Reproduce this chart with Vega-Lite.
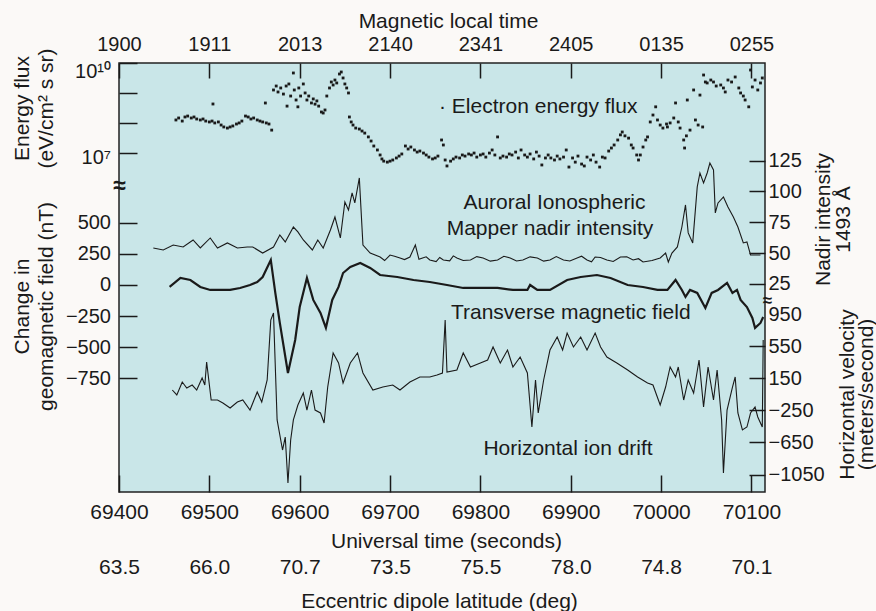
{
  "$schema": "https://vega.github.io/schema/vega-lite/v6.json",
  "width": 646,
  "height": 429,
  "autosize": {"type": "none"},
  "padding": {"left": 119, "top": 63, "right": 111, "bottom": 119},
  "background": "#fbf9f7",
  "config": {
    "view": {"fill": "#c9e6e8", "stroke": "#222222", "strokeWidth": 1.5},
    "font": "Liberation Sans",
    "axis": {
      "domain": false, "grid": false,
      "labelFont": "Liberation Sans", "labelFontSize": 20, "labelColor": "#1a1a1a",
      "titleFont": "Liberation Sans", "titleFontSize": 21, "titleFontWeight": "normal", "titleColor": "#1a1a1a",
      "tickColor": "#1a1a1a", "tickWidth": 1.5,
      "labelFlush": false, "labelOverlap": false, "labelBound": false
    }
  },
  "datasets": {
    "flux": [
      {"ut":69463,"flux":1.28e8},{"ut":69466,"flux":1.49e8},{"ut":69470,"flux":1.18e8},{"ut":69473,"flux":1.61e8},{"ut":69476,"flux":1.73e8},{"ut":69480,"flux":1.49e8},{"ut":69483,"flux":1.61e8},{"ut":69486,"flux":1.38e8},{"ut":69490,"flux":1.28e8},{"ut":69493,"flux":1.38e8},{"ut":69496,"flux":1.18e8},{"ut":69500,"flux":1.10e8},{"ut":69503,"flux":1.18e8},{"ut":69504,"flux":4.35e8},{"ut":69506,"flux":1.02e8},{"ut":69510,"flux":1.10e8},{"ut":69513,"flux":8.7e7},{"ut":69516,"flux":7.5e7},{"ut":69520,"flux":6.9e7},{"ut":69523,"flux":7.5e7},{"ut":69526,"flux":8.1e7},{"ut":69530,"flux":9.4e7},{"ut":69533,"flux":1.02e8},{"ut":69536,"flux":1.18e8},{"ut":69540,"flux":1.73e8},{"ut":69543,"flux":1.61e8},{"ut":69546,"flux":1.38e8},{"ut":69549,"flux":1.49e8},{"ut":69553,"flux":1.28e8},{"ut":69556,"flux":1.18e8},{"ut":69559,"flux":1.10e8},{"ut":69562,"flux":4.69e8},{"ut":69563,"flux":1.02e8},{"ut":69566,"flux":9.4e7},{"ut":69569,"flux":5.9e7},
      {"ut":69571,"flux":1.27e9},{"ut":69574,"flux":1.72e9},{"ut":69576,"flux":1.09e9},{"ut":69579,"flux":1.48e9},{"ut":69582,"flux":9.3e8},{"ut":69585,"flux":1.72e9},{"ut":69586,"flux":3.7e8},{"ut":69588,"flux":2.01e9},{"ut":69590,"flux":8.0e8},{"ut":69593,"flux":4.66e9},{"ut":69594,"flux":1.27e9},{"ut":69596,"flux":5.9e8},{"ut":69598,"flux":3.5e8},{"ut":69599,"flux":1.48e9},{"ut":69601,"flux":8.0e8},{"ut":69604,"flux":2.01e9},{"ut":69606,"flux":1.01e9},{"ut":69608,"flux":5.9e8},{"ut":69610,"flux":8.0e8},{"ut":69613,"flux":4.7e8},{"ut":69615,"flux":6.4e8},{"ut":69617,"flux":4.3e8},{"ut":69619,"flux":5.5e8},{"ut":69621,"flux":3.7e8},{"ut":69624,"flux":2.36e8},{"ut":69626,"flux":2.18e8},{"ut":69628,"flux":2.75e8},{"ut":69630,"flux":8.0e8},{"ut":69633,"flux":1.48e9},{"ut":69635,"flux":2.34e9},{"ut":69637,"flux":1.86e9},{"ut":69639,"flux":2.72e9},{"ut":69641,"flux":2.17e9},{"ut":69644,"flux":4.31e9},{"ut":69646,"flux":5.02e9},{"ut":69648,"flux":3.18e9},{"ut":69650,"flux":2.01e9},{"ut":69652,"flux":1.48e9},{"ut":69654,"flux":1.01e9},
      {"ut":69655,"flux":1.61e8},{"ut":69657,"flux":1.10e8},{"ut":69659,"flux":8.7e7},{"ut":69662,"flux":6.9e7},{"ut":69666,"flux":6.4e7},{"ut":69669,"flux":5.5e7},{"ut":69672,"flux":4.7e7},{"ut":69676,"flux":3.5e7},{"ut":69679,"flux":2.56e7},{"ut":69682,"flux":1.75e7},{"ut":69686,"flux":1.29e7},{"ut":69689,"flux":8.8e6},{"ut":69691,"flux":6.5e6},{"ut":69693,"flux":5.5e6},{"ut":69697,"flux":5.1e6},{"ut":69700,"flux":5.5e6},{"ut":69703,"flux":6.0e6},{"ut":69707,"flux":7.0e6},{"ut":69710,"flux":8.1e6},{"ut":69713,"flux":9.5e6},{"ut":69717,"flux":1.75e7},{"ut":69720,"flux":1.39e7},{"ut":69723,"flux":1.62e7},{"ut":69727,"flux":1.29e7},{"ut":69730,"flux":1.10e7},{"ut":69733,"flux":1.19e7},{"ut":69737,"flux":1.02e7},{"ut":69740,"flux":8.8e6},{"ut":69743,"flux":7.5e6},{"ut":69747,"flux":6.5e6},{"ut":69750,"flux":7.0e6},{"ut":69753,"flux":8.1e6},{"ut":69757,"flux":2.77e7},{"ut":69759,"flux":1.89e7},{"ut":69761,"flux":6.0e6},{"ut":69763,"flux":3.8e6},{"ut":69767,"flux":5.5e6},{"ut":69770,"flux":6.5e6},{"ut":69773,"flux":7.5e6},{"ut":69777,"flux":7.0e6},{"ut":69780,"flux":8.8e6},{"ut":69783,"flux":8.1e6},{"ut":69787,"flux":9.5e6},{"ut":69790,"flux":8.8e6},{"ut":69793,"flux":1.02e7},{"ut":69796,"flux":7.5e6},{"ut":69800,"flux":8.8e6},{"ut":69803,"flux":9.5e6},{"ut":69806,"flux":7.5e6},{"ut":69810,"flux":1.02e7},{"ut":69813,"flux":1.29e7},{"ut":69816,"flux":8.8e6},{"ut":69819,"flux":3.5e7},{"ut":69822,"flux":7.0e6},{"ut":69825,"flux":8.1e6},{"ut":69829,"flux":7.5e6},{"ut":69832,"flux":9.5e6},{"ut":69835,"flux":8.8e6},{"ut":69839,"flux":1.10e7},{"ut":69842,"flux":7.0e6},{"ut":69845,"flux":1.29e7},{"ut":69849,"flux":8.8e6},{"ut":69852,"flux":7.5e6},{"ut":69855,"flux":9.5e6},{"ut":69859,"flux":6.5e6},{"ut":69862,"flux":1.10e7},{"ut":69865,"flux":8.1e6},{"ut":69868,"flux":4.1e6},{"ut":69872,"flux":7.0e6},{"ut":69875,"flux":8.8e6},{"ut":69878,"flux":7.0e6},{"ut":69882,"flux":6.0e6},{"ut":69885,"flux":8.1e6},{"ut":69888,"flux":6.5e6},{"ut":69892,"flux":7.5e6},{"ut":69895,"flux":1.29e7},{"ut":69898,"flux":3.5e6},{"ut":69902,"flux":7.0e6},{"ut":69905,"flux":5.1e6},{"ut":69908,"flux":8.1e6},{"ut":69912,"flux":4.4e6},{"ut":69915,"flux":3.8e6},{"ut":69918,"flux":7.5e6},{"ut":69922,"flux":6.0e6},{"ut":69925,"flux":8.8e6},{"ut":69928,"flux":5.1e6},{"ut":69932,"flux":3.5e6},{"ut":69935,"flux":7.5e6},{"ut":69938,"flux":7.0e6},{"ut":69942,"flux":1.19e7},{"ut":69945,"flux":1.50e7},{"ut":69948,"flux":1.89e7},{"ut":69952,"flux":2.77e7},{"ut":69955,"flux":4.1e7},{"ut":69957,"flux":5.1e7},{"ut":69960,"flux":3.8e7},{"ut":69964,"flux":3.2e7},{"ut":69967,"flux":1.89e7},{"ut":69969,"flux":1.50e7},{"ut":69973,"flux":8.8e6},{"ut":69975,"flux":6.0e6},{"ut":69977,"flux":8.8e6},{"ut":69980,"flux":1.62e7},{"ut":69983,"flux":2.77e7},{"ut":69985,"flux":3.5e7},{"ut":69988,"flux":1.10e8},{"ut":69991,"flux":1.87e8},{"ut":69994,"flux":3.5e8},{"ut":69996,"flux":1.28e8},{"ut":69999,"flux":8.7e7},{"ut":70002,"flux":6.9e7},{"ut":70006,"flux":9.4e7},{"ut":70007,"flux":7.5e7},{"ut":70010,"flux":1.02e8},{"ut":70014,"flux":1.49e8},{"ut":70016,"flux":4.7e8},{"ut":70019,"flux":1.10e8},{"ut":70021,"flux":6.9e7},{"ut":70025,"flux":2.77e7},{"ut":70026,"flux":1.50e7},{"ut":70028,"flux":3.8e7},{"ut":70029,"flux":5.9e8},{"ut":70032,"flux":5.9e7},{"ut":70036,"flux":1.27e9},{"ut":70038,"flux":1.28e8},{"ut":70041,"flux":8.7e7},{"ut":70043,"flux":8.6e8},{"ut":70046,"flux":7.5e7},{"ut":70047,"flux":3.99e9},{"ut":70049,"flux":2.34e9},{"ut":70051,"flux":2.17e9},{"ut":70055,"flux":2.72e9},{"ut":70058,"flux":2.34e9},{"ut":70061,"flux":1.72e9},{"ut":70066,"flux":1.86e9},{"ut":70069,"flux":1.48e9},{"ut":70071,"flux":1.09e9},{"ut":70074,"flux":2.72e9},{"ut":70078,"flux":2.34e9},{"ut":70082,"flux":3.43e9},{"ut":70086,"flux":1.48e9},{"ut":70088,"flux":1.01e9},{"ut":70091,"flux":8.0e8},{"ut":70093,"flux":5.9e8},{"ut":70097,"flux":3.5e8},{"ut":70099,"flux":5.85e9},{"ut":70101,"flux":1.60e9},{"ut":70104,"flux":2.72e9},{"ut":70107,"flux":1.27e9},{"ut":70110,"flux":2.17e9},{"ut":70112,"flux":3.18e9}
    ],
    "nadir": [
      {"ut":69438,"nadir":54.2},{"ut":69449,"nadir":52.6},{"ut":69460,"nadir":56.6},{"ut":69471,"nadir":55.0},{"ut":69482,"nadir":60.7},{"ut":69490,"nadir":54.2},{"ut":69501,"nadir":62.3},{"ut":69509,"nadir":54.2},{"ut":69520,"nadir":58.3},{"ut":69531,"nadir":54.2},{"ut":69542,"nadir":55.0},{"ut":69548,"nadir":55.0},{"ut":69559,"nadir":50.1},{"ut":69571,"nadir":55.0},{"ut":69578,"nadir":64.7},{"ut":69584,"nadir":59.1},{"ut":69593,"nadir":71.2},{"ut":69598,"nadir":67.2},{"ut":69604,"nadir":60.7},{"ut":69614,"nadir":52.6},{"ut":69620,"nadir":60.7},{"ut":69626,"nadir":54.2},{"ut":69634,"nadir":68.8},{"ut":69639,"nadir":79.3},{"ut":69645,"nadir":62.3},{"ut":69650,"nadir":91.5},{"ut":69654,"nadir":85.0},{"ut":69658,"nadir":98.8},{"ut":69661,"nadir":90.7},{"ut":69666,"nadir":111.0},{"ut":69670,"nadir":56.6},{"ut":69678,"nadir":50.1},{"ut":69689,"nadir":46.9},{"ut":69694,"nadir":44.0},{"ut":69700,"nadir":48.5},{"ut":69705,"nadir":47.5},{"ut":69711,"nadir":46.1},{"ut":69716,"nadir":44.8},{"ut":69722,"nadir":46.9},{"ut":69728,"nadir":56.6},{"ut":69732,"nadir":45.0},{"ut":69736,"nadir":46.1},{"ut":69740,"nadir":47.0},{"ut":69744,"nadir":44.5},{"ut":69751,"nadir":43.2},{"ut":69755,"nadir":46.5},{"ut":69759,"nadir":44.5},{"ut":69766,"nadir":43.8},{"ut":69770,"nadir":47.8},{"ut":69774,"nadir":46.1},{"ut":69781,"nadir":44.0},{"ut":69789,"nadir":44.5},{"ut":69796,"nadir":47.2},{"ut":69803,"nadir":46.1},{"ut":69811,"nadir":43.5},{"ut":69819,"nadir":44.5},{"ut":69826,"nadir":47.5},{"ut":69833,"nadir":46.1},{"ut":69840,"nadir":43.6},{"ut":69847,"nadir":44.5},{"ut":69855,"nadir":47.0},{"ut":69863,"nadir":46.1},{"ut":69870,"nadir":43.5},{"ut":69877,"nadir":44.5},{"ut":69884,"nadir":47.2},{"ut":69892,"nadir":44.5},{"ut":69899,"nadir":43.6},{"ut":69907,"nadir":46.1},{"ut":69912,"nadir":47.5},{"ut":69918,"nadir":44.5},{"ut":69923,"nadir":43.0},{"ut":69927,"nadir":46.9},{"ut":69933,"nadir":46.5},{"ut":69940,"nadir":44.5},{"ut":69947,"nadir":43.2},{"ut":69955,"nadir":46.9},{"ut":69962,"nadir":47.0},{"ut":69969,"nadir":44.5},{"ut":69975,"nadir":45.5},{"ut":69980,"nadir":42.8},{"ut":69990,"nadir":44.0},{"ut":69999,"nadir":46.1},{"ut":70005,"nadir":50.1},{"ut":70008,"nadir":42.8},{"ut":70012,"nadir":50.1},{"ut":70018,"nadir":55.0},{"ut":70023,"nadir":71.2},{"ut":70027,"nadir":89.1},{"ut":70030,"nadir":66.4},{"ut":70035,"nadir":58.3},{"ut":70040,"nadir":103.7},{"ut":70043,"nadir":115.0},{"ut":70047,"nadir":106.9},{"ut":70051,"nadir":115.0},{"ut":70054,"nadir":123.1},{"ut":70058,"nadir":117.5},{"ut":70060,"nadir":82.6},{"ut":70063,"nadir":90.7},{"ut":70069,"nadir":95.6},{"ut":70074,"nadir":87.4},{"ut":70080,"nadir":79.3},{"ut":70085,"nadir":71.2},{"ut":70091,"nadir":58.3},{"ut":70095,"nadir":59.1},{"ut":70099,"nadir":48.5},{"ut":70110,"nadir":48.5}
    ],
    "mag": [
      {"ut":69456,"mag":-16},{"ut":69468,"mag":56},{"ut":69479,"mag":40},{"ut":69490,"mag":-16},{"ut":69501,"mag":-40},{"ut":69512,"mag":-40},{"ut":69523,"mag":-40},{"ut":69534,"mag":-24},{"ut":69545,"mag":0},{"ut":69553,"mag":24},{"ut":69559,"mag":64},{"ut":69568,"mag":201},{"ut":69573,"mag":-64},{"ut":69578,"mag":-305},{"ut":69587,"mag":-707},{"ut":69595,"mag":-442},{"ut":69600,"mag":-177},{"ut":69608,"mag":56},{"ut":69615,"mag":-120},{"ut":69623,"mag":-225},{"ut":69629,"mag":-345},{"ut":69636,"mag":-120},{"ut":69643,"mag":-16},{"ut":69648,"mag":96},{"ut":69656,"mag":145},{"ut":69667,"mag":177},{"ut":69678,"mag":137},{"ut":69689,"mag":80},{"ut":69708,"mag":64},{"ut":69726,"mag":40},{"ut":69744,"mag":24},{"ut":69763,"mag":0},{"ut":69781,"mag":-24},{"ut":69800,"mag":-24},{"ut":69819,"mag":-24},{"ut":69836,"mag":-40},{"ut":69852,"mag":-40},{"ut":69855,"mag":0},{"ut":69863,"mag":-40},{"ut":69877,"mag":-40},{"ut":69896,"mag":40},{"ut":69911,"mag":64},{"ut":69929,"mag":80},{"ut":69944,"mag":56},{"ut":69963,"mag":0},{"ut":69980,"mag":-16},{"ut":69996,"mag":-40},{"ut":70007,"mag":-40},{"ut":70016,"mag":40},{"ut":70023,"mag":-40},{"ut":70027,"mag":-96},{"ut":70032,"mag":-40},{"ut":70040,"mag":-64},{"ut":70049,"mag":-185},{"ut":70056,"mag":-64},{"ut":70063,"mag":-40},{"ut":70073,"mag":16},{"ut":70079,"mag":-64},{"ut":70084,"mag":-40},{"ut":70088,"mag":-120},{"ut":70095,"mag":-177},{"ut":70101,"mag":-265},{"ut":70104,"mag":-345},{"ut":70110,"mag":-305},{"ut":70113,"mag":-257}
    ],
    "vel": [
      {"ut":69459,"vel":5},{"ut":69464,"vel":-57},{"ut":69470,"vel":105},{"ut":69475,"vel":30},{"ut":69481,"vel":67},{"ut":69486,"vel":5},{"ut":69492,"vel":155},{"ut":69495,"vel":67},{"ut":69497,"vel":354},{"ut":69502,"vel":-120},{"ut":69509,"vel":-120},{"ut":69515,"vel":-157},{"ut":69523,"vel":-220},{"ut":69531,"vel":-145},{"ut":69537,"vel":-120},{"ut":69545,"vel":-245},{"ut":69553,"vel":-20},{"ut":69558,"vel":-145},{"ut":69564,"vel":130},{"ut":69568,"vel":878},{"ut":69571,"vel":966},{"ut":69575,"vel":-369},{"ut":69581,"vel":-744},{"ut":69584,"vel":-582},{"ut":69587,"vel":-1156},{"ut":69590,"vel":-619},{"ut":69593,"vel":-369},{"ut":69598,"vel":-182},{"ut":69604,"vel":-33},{"ut":69608,"vel":-245},{"ut":69613,"vel":5},{"ut":69617,"vel":-245},{"ut":69623,"vel":-282},{"ut":69627,"vel":-407},{"ut":69631,"vel":42},{"ut":69637,"vel":467},{"ut":69643,"vel":342},{"ut":69648,"vel":92},{"ut":69656,"vel":342},{"ut":69664,"vel":467},{"ut":69670,"vel":217},{"ut":69681,"vel":5},{"ut":69692,"vel":42},{"ut":69703,"vel":67},{"ut":69711,"vel":5},{"ut":69722,"vel":105},{"ut":69733,"vel":167},{"ut":69744,"vel":167},{"ut":69752,"vel":192},{"ut":69758,"vel":217},{"ut":69761,"vel":878},{"ut":69763,"vel":230},{"ut":69774,"vel":255},{"ut":69781,"vel":467},{"ut":69789,"vel":292},{"ut":69800,"vel":342},{"ut":69808,"vel":379},{"ut":69814,"vel":542},{"ut":69822,"vel":342},{"ut":69830,"vel":504},{"ut":69836,"vel":292},{"ut":69844,"vel":417},{"ut":69852,"vel":217},{"ut":69857,"vel":-457},{"ut":69861,"vel":130},{"ut":69864,"vel":-282},{"ut":69870,"vel":130},{"ut":69877,"vel":504},{"ut":69885,"vel":666},{"ut":69891,"vel":504},{"ut":69896,"vel":716},{"ut":69903,"vel":542},{"ut":69911,"vel":666},{"ut":69918,"vel":504},{"ut":69927,"vel":716},{"ut":69933,"vel":542},{"ut":69940,"vel":417},{"ut":69951,"vel":342},{"ut":69963,"vel":255},{"ut":69974,"vel":167},{"ut":69985,"vel":92},{"ut":69991,"vel":67},{"ut":69999,"vel":-182},{"ut":70005,"vel":42},{"ut":70010,"vel":292},{"ut":70016,"vel":167},{"ut":70019,"vel":292},{"ut":70025,"vel":-120},{"ut":70030,"vel":130},{"ut":70036,"vel":-33},{"ut":70042,"vel":379},{"ut":70047,"vel":-207},{"ut":70052,"vel":292},{"ut":70058,"vel":-120},{"ut":70062,"vel":255},{"ut":70067,"vel":-369},{"ut":70069,"vel":-1031},{"ut":70073,"vel":-245},{"ut":70079,"vel":42},{"ut":70082,"vel":167},{"ut":70085,"vel":-282},{"ut":70090,"vel":-494},{"ut":70095,"vel":-457},{"ut":70099,"vel":-282},{"ut":70104,"vel":-207},{"ut":70107,"vel":-332},{"ut":70112,"vel":-457},{"ut":70113,"vel":629}
    ]
  },
  "layer": [
    {
      "layer": [
        {
          "data": {"name": "flux"},
          "mark": {"type": "point", "shape": "square", "filled": true, "size": 8, "color": "#1a1a1a", "opacity": 1},
          "encoding": {
            "x": {"field": "ut", "type": "quantitative",
              "scale": {"domain": [69400, 70115], "nice": false, "zero": false},
              "axis": {"orient": "bottom", "values": [69400,69500,69600,69700,69800,69900,70000,70100], "format": "d",
                "tickSize": -17, "labelPadding": 37.5, "labelBaseline": "middle", "labelFontSize": 21,
                "title": "Universal time (seconds)", "titleX": 327, "titleY": 49, "titleBaseline": "middle", "titleAlign": "center"}},
            "y": {"field": "flux", "type": "quantitative",
              "scale": {"type": "log", "domain": [5.62e-5, 1e10], "nice": false},
              "axis": {"orient": "left", "values": [1e7, 1e8, 1e9, 1e10],
                "labelExpr": "datum.value > 5e9 ? '10¹⁰' : ((datum.value > 5e6 && datum.value < 2e7) ? '10⁷' : '')",
                "tickSize": -18, "labelPadding": 26.5, "labelBaseline": "middle", "labelAlign": "right",
                "labelOffset": {"condition": {"test": "datum.value > 5e9", "value": 8}, "value": 4},
                "title": ["Energy flux", "(eV/cm² s sr)"], "titleAngle": 270, "titleX": -97, "titleY": 45,
                "titleBaseline": "middle", "titleAlign": "center", "titleLineHeight": 24}}
          }
        },
        {
          "data": {"values": [{"ut": 69864, "flux": 3.45e8, "label": "· Electron energy flux"}]},
          "mark": {"type": "text", "fontSize": 21, "font": "Liberation Sans", "color": "#1a1a1a", "align": "center", "baseline": "middle"},
          "encoding": {
            "x": {"field": "ut", "type": "quantitative"},
            "y": {"field": "flux", "type": "quantitative"},
            "text": {"field": "label"}
          }
        }
      ]
    },
    {
      "layer": [
        {
          "data": {"name": "nadir"},
          "mark": {"type": "line", "color": "#1a1a1a", "strokeWidth": 1.1},
          "encoding": {
            "x": {"field": "ut", "type": "quantitative",
              "scale": {"domain": [69400, 70115], "nice": false, "zero": false},
              "axis": {"orient": "top", "values": [69400,69500,69600,69700,69800,69900,70000,70100],
                "labelExpr": "['1900','1911','2013','2140','2341','2405','0135','0255'][round((datum.value-69400)/100)]",
                "tickSize": -15, "labelPadding": 33.5, "labelBaseline": "middle",
                "title": "Magnetic local time", "titleX": 329, "titleY": -42, "titleBaseline": "middle", "titleAlign": "center"}},
            "y": {"field": "nadir", "type": "quantitative",
              "scale": {"domain": [-143.7, 204.2], "nice": false, "zero": false},
              "axis": {"orient": "right", "values": [25, 50, 75, 100, 125],
                "tickSize": -16, "labelPadding": 19, "labelAlign": "left", "labelBaseline": "middle",
                "title": ["Nadir intensity", "1493 Å"], "titleAngle": 270, "titleX": 58.5, "titleY": 156,
                "titleBaseline": "middle", "titleAlign": "center", "titleLineHeight": 20}}
          }
        },
        {
          "data": {"values": [
            {"ut": 69882, "nadir": 90.7, "label": "Auroral Ionospheric"},
            {"ut": 69877, "nadir": 69.6, "label": "Mapper nadir intensity"}
          ]},
          "mark": {"type": "text", "fontSize": 21, "font": "Liberation Sans", "color": "#1a1a1a", "align": "center", "baseline": "middle"},
          "encoding": {
            "x": {"field": "ut", "type": "quantitative"},
            "y": {"field": "nadir", "type": "quantitative"},
            "text": {"field": "label"}
          }
        }
      ]
    },
    {
      "layer": [
        {
          "data": {"name": "mag"},
          "mark": {"type": "line", "color": "#1a1a1a", "strokeWidth": 2.2},
          "encoding": {
            "x": {"field": "ut", "type": "quantitative",
              "scale": {"domain": [69400, 70115], "nice": false, "zero": false},
              "axis": {"orient": "bottom", "values": [69400,69500,69600,69700,69800,69900,70000,70100],
                "labelExpr": "['63.5','66.0','70.7','73.5','75.5','78.0','74.8','70.1'][round((datum.value-69400)/100)]",
                "ticks": false, "labelPadding": 75, "labelBaseline": "middle", "labelFontSize": 21,
                "title": "Eccentric dipole latitude (deg)", "titleX": 320, "titleY": 109, "titleBaseline": "middle", "titleAlign": "center"}},
            "y": {"field": "mag", "type": "quantitative",
              "scale": {"domain": [-1663, 1783], "nice": false, "zero": false},
              "axis": {"orient": "left", "values": [-750, -500, -250, 0, 250, 500, 803], "format": "d",
                "labelExpr": "datum.value > 700 ? '≈' : datum.label",
                "tickSize": -18,
                "tickOpacity": {"condition": {"test": "datum.value > 700", "value": 0}, "value": 1},
                "labelPadding": {"condition": {"test": "datum.value > 700", "value": 18}, "value": 26.5},
                "labelAlign": {"condition": {"test": "datum.value > 700", "value": "center"}, "value": "right"},
                "labelFontSize": {"condition": {"test": "datum.value > 700", "value": 23}, "value": 20},
                "labelFontWeight": {"condition": {"test": "datum.value > 700", "value": "bold"}, "value": "normal"},
                "labelBaseline": "middle",
                "title": ["Change in", "geomagnetic field (nT)"], "titleAngle": 270, "titleX": -97, "titleY": 243,
                "titleBaseline": "middle", "titleAlign": "center", "titleLineHeight": 24}}
          }
        },
        {
          "data": {"values": [{"ut": 69900, "mag": -225, "label": "Transverse magnetic field"}]},
          "mark": {"type": "text", "fontSize": 21, "font": "Liberation Sans", "color": "#1a1a1a", "align": "center", "baseline": "middle"},
          "encoding": {
            "x": {"field": "ut", "type": "quantitative"},
            "y": {"field": "mag", "type": "quantitative"},
            "text": {"field": "label"}
          }
        }
      ]
    },
    {
      "layer": [
        {
          "data": {"name": "vel"},
          "mark": {"type": "line", "color": "#1a1a1a", "strokeWidth": 1.1},
          "encoding": {
            "x": {"field": "ut", "type": "quantitative",
              "scale": {"domain": [69400, 70115], "nice": false, "zero": false},
              "axis": null},
            "y": {"field": "vel", "type": "quantitative",
              "scale": {"domain": [-1268, 4086], "nice": false, "zero": false},
              "axis": {"orient": "right", "values": [-1050, -650, -250, 150, 550, 950, 1116], "format": "d",
                "labelExpr": "datum.value > 1000 ? '≈' : datum.label",
                "tickSize": -16,
                "tickOpacity": {"condition": {"test": "datum.value > 900", "value": 0}, "value": 1},
                "labelPadding": {"condition": {"test": "datum.value > 1000", "value": 18}, "value": 19},
                "labelAlign": {"condition": {"test": "datum.value > 1000", "value": "center"}, "value": "left"},
                "labelFontSize": {"condition": {"test": "datum.value > 1000", "value": 17}, "value": 20},
                "labelFontWeight": {"condition": {"test": "datum.value > 1000", "value": "bold"}, "value": "normal"},
                "labelBaseline": "middle",
                "title": ["Horizontal velocity", "(meters/second)"], "titleAngle": 270, "titleX": 82, "titleY": 331,
                "titleBaseline": "middle", "titleAlign": "center", "titleLineHeight": 19}}
          }
        },
        {
          "data": {"values": [{"ut": 69897, "vel": -731, "label": "Horizontal ion drift"}]},
          "mark": {"type": "text", "fontSize": 21, "font": "Liberation Sans", "color": "#1a1a1a", "align": "center", "baseline": "middle"},
          "encoding": {
            "x": {"field": "ut", "type": "quantitative"},
            "y": {"field": "vel", "type": "quantitative"},
            "text": {"field": "label"}
          }
        }
      ]
    }
  ],
  "resolve": {"scale": {"x": "independent", "y": "independent"}}
}
